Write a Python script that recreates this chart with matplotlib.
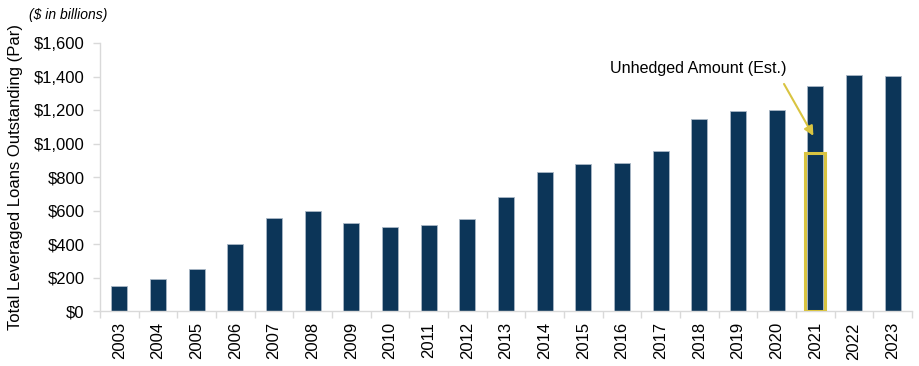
import numpy as np
import matplotlib.pyplot as plt
from matplotlib.patches import Rectangle
from matplotlib.ticker import FuncFormatter, FixedLocator

plt.rcParams['font.family'] = ['Liberation Sans', 'DejaVu Sans']

years = [str(y) for y in range(2003, 2024)]
loans = [150, 193, 250, 400, 556, 596, 527, 503, 515, 551, 680, 830,
         879, 885, 957, 1148, 1196, 1202, 1347, 1413, 1403]
unhedged_year = '2021'
unhedged_amount = 943
y_ticks = [0, 200, 400, 600, 800, 1000, 1200, 1400, 1600]

bar_color = '#0C3558'
gold = '#D9C441'
grid_grey = '#D9D9D9'

fig = plt.figure(figsize=(9.2, 3.66), dpi=100)
ax = fig.add_axes([0.1087, 0.150, 0.8826, 0.7317])

x = np.arange(len(years))
ax.bar(x, loans, width=0.41, color=bar_color, edgecolor='#A9B7C6', linewidth=0.6)

# box around the unhedged part of the 2021 bar
i = years.index(unhedged_year)
ax.add_patch(Rectangle((i - 0.26, 0), 0.52, unhedged_amount, fill=False,
                       edgecolor=gold, linewidth=2.2, zorder=3))

ax.text(i - 0.75, 1452, 'Unhedged Amount (Est.)', ha='right', va='center', fontsize=11.6)
ax.annotate('', xy=(i - 0.05, 1047), xytext=(i - 0.81, 1357),
            arrowprops=dict(arrowstyle='-|>', color=gold, lw=1.5,
                            mutation_scale=14, shrinkA=0, shrinkB=0))

ax.set_xlim(-0.5, len(years) - 0.5)
ax.set_ylim(0, 1600)
ax.set_xticks(x)
ax.set_xticklabels(years, rotation=90, fontsize=12)
ax.xaxis.set_minor_locator(FixedLocator(np.arange(-0.5, len(years), 1)))
ax.tick_params(axis='x', which='major', length=0, pad=8)
ax.tick_params(axis='x', which='minor', length=5, color=grid_grey, width=1)
ax.set_yticks(y_ticks)
ax.yaxis.set_major_formatter(FuncFormatter(lambda v, p: '${:,.0f}'.format(v)))
ax.tick_params(axis='y', length=5, color=grid_grey, width=1, labelsize=12, pad=6)

for s in ['top', 'right']:
    ax.spines[s].set_visible(False)
for s in ['left', 'bottom']:
    ax.spines[s].set_color(grid_grey)
    ax.spines[s].set_linewidth(1)

ax.set_ylabel('Total Leveraged Loans Outstanding (Par)', fontsize=12, labelpad=8)
fig.text(0.032, 0.958, '($ in billions)', fontsize=10, style='italic', va='center')

fig.savefig('out.png', dpi=100)
